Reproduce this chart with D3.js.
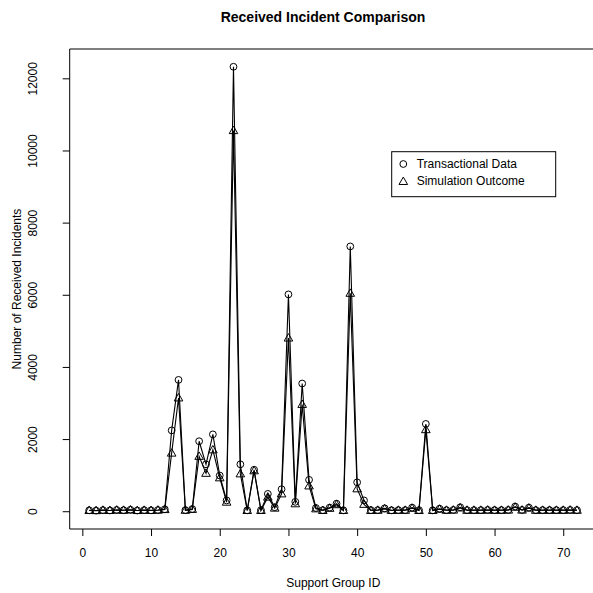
<!DOCTYPE html>
<html>
<head>
<meta charset="utf-8">
<script src="https://cdn.jsdelivr.net/npm/d3@7"></script>
<style>
  body { margin: 0; background: #fff; overflow: hidden; }
  svg { display: block; font-family: "Liberation Sans", Arial, Helvetica, sans-serif; }
</style>
</head>
<body>
<div id="chart"></div>
<script>
"use strict"

// Support group ids 1..72
const groupIds = d3.range(1, 73);

// Transactional data (circles)
const transactional = [
  25, 18, 30, 22, 35, 28, 40, 20, 30, 25, 33, 55,
  2240, 3640, 30, 60, 1940, 1300, 2130, 990, 300, 12320, 1300, 25,
  1150, 30, 480, 110, 610, 6010, 260, 3540, 870, 90, 30, 100,
  210, 25, 7340, 800, 300, 30, 30, 80, 25, 30, 30, 100,
  30, 2420, 25, 70, 30, 35, 110, 30, 30, 30, 35, 30,
  30, 35, 130, 35, 100, 30, 30, 30, 30, 30, 35, 30
];

// Simulation outcome (triangles)
const simulation = [
  20, 15, 25, 20, 30, 25, 35, 18, 25, 20, 28, 45,
  1610, 3140, 25, 50, 1520, 1050, 1700, 925, 250, 10550, 1035, 20,
  1120, 20, 390, 85, 480, 4800, 205, 2960, 700, 65, 20, 80,
  180, 20, 6040, 620, 190, 20, 25, 65, 20, 25, 25, 80,
  20, 2260, 20, 55, 25, 30, 90, 25, 25, 25, 30, 25,
  25, 30, 110, 30, 85, 25, 25, 25, 25, 25, 30, 25
];

const xTicks = [0, 10, 20, 30, 40, 50, 60, 70];
const yTicks = [0, 2000, 4000, 6000, 8000, 10000, 12000];
const legendLabels = ["Transactional Data", "Simulation Outcome"];

window.addEventListener("load", drawChart);

function drawChart() {
  let width = 593, height = 593;
  let plot = { left: 69.7, right: 596.5, top: 49, bottom: 529 };

  let svg = d3.select("#chart").append("svg")
    .attr("width", width)
    .attr("height", height)
    .style("overflow", "hidden");

  // R-style 4% padding of the data range
  let xPad = (72 - 1) * 0.04;
  let x = d3.scaleLinear()
    .domain([1 - xPad, 72 + xPad])
    .range([plot.left, plot.right]);

  let yMax = d3.max(transactional.concat(simulation));
  let yPad = yMax * 0.04;
  let y = d3.scaleLinear()
    .domain([-yPad, yMax + yPad])
    .range([plot.bottom, plot.top]);

  // plot box: left, top and bottom edges (right side is outside the picture)
  let edge = Math.min(plot.right, width);
  svg.append("path")
    .attr("d", `M${edge},${plot.top}H${plot.left}V${plot.bottom}H${edge}`)
    .attr("fill", "none").attr("stroke", "#000").attr("stroke-width", 1);

  // x axis
  let xAxis = svg.append("g")
    .attr("transform", `translate(0,${plot.bottom})`)
    .call(d3.axisBottom(x).tickValues(xTicks).tickSize(7).tickSizeOuter(0));
  xAxis.select(".domain").remove();
  xAxis.selectAll("text")
    .attr("y", 27.7).attr("dy", 0)
    .style("font-size", "12px").style("fill", "#000")
    .style("font-family", "'Liberation Sans', Arial, sans-serif");

  // y axis
  let yAxis = svg.append("g")
    .attr("transform", `translate(${plot.left},0)`)
    .call(d3.axisLeft(y).tickValues(yTicks).tickSize(7).tickSizeOuter(0).tickFormat(d3.format("d")));
  yAxis.select(".domain").remove();
  yAxis.selectAll("text")
    .attr("transform", "rotate(-90)")
    .attr("x", 0).attr("y", -32.7).attr("dy", 0)
    .style("text-anchor", "middle")
    .style("font-size", "12px").style("fill", "#000")
    .style("font-family", "'Liberation Sans', Arial, sans-serif");

  let line = d3.line()
    .x((d, i) => x(groupIds[i]))
    .y(d => y(d));

  // series lines
  for (let series of [transactional, simulation]) {
    svg.append("path")
      .datum(series)
      .attr("d", line)
      .attr("fill", "none")
      .attr("stroke", "#000")
      .attr("stroke-width", 1.1);
  }

  // circles
  svg.append("g").selectAll("circle")
    .data(transactional)
    .enter()
    .append("circle")
      .attr("cx", (d, i) => x(groupIds[i]))
      .attr("cy", d => y(d))
      .attr("r", 3.4)
      .attr("fill", "none")
      .attr("stroke", "#000")
      .attr("stroke-width", 1);

  // triangles
  let tri = d3.symbol().type(d3.symbolTriangle).size(32);
  svg.append("g").selectAll("path")
    .data(simulation)
    .enter()
    .append("path")
      .attr("d", tri)
      .attr("transform", (d, i) => `translate(${x(groupIds[i])},${y(d) + 0.5})`)
      .attr("fill", "none")
      .attr("stroke", "#000")
      .attr("stroke-width", 1);

  // title and axis labels
  svg.append("text")
    .attr("x", 323).attr("y", 22)
    .attr("text-anchor", "middle")
    .style("font-size", "14px").style("font-weight", "bold")
    .text("Received Incident Comparison");

  svg.append("text")
    .attr("x", 333.3).attr("y", 586.7)
    .attr("text-anchor", "middle")
    .style("font-size", "12px")
    .text("Support Group ID");

  svg.append("text")
    .attr("transform", `translate(20.7,${(plot.top + plot.bottom) / 2}) rotate(-90)`)
    .attr("text-anchor", "middle")
    .style("font-size", "12px")
    .text("Number of Received Incidents");

  // legend
  let legend = svg.append("g");
  legend.append("rect")
    .attr("x", 391.7).attr("y", 151.7)
    .attr("width", 164).attr("height", 45)
    .attr("fill", "#fff").attr("stroke", "#000").attr("stroke-width", 1);

  legend.append("circle")
    .attr("cx", 403.3).attr("cy", 164)
    .attr("r", 3.4).attr("fill", "none").attr("stroke", "#000");
  legend.append("path")
    .attr("d", tri)
    .attr("transform", "translate(403.3,182)")
    .attr("fill", "none").attr("stroke", "#000");

  legend.selectAll("text")
    .data(legendLabels)
    .enter()
    .append("text")
      .attr("x", 416.7)
      .attr("y", (d, i) => 167.9 + i * 17.3)
      .style("font-size", "12px")
      .text(d => d);
}
</script>
</body>
</html>
